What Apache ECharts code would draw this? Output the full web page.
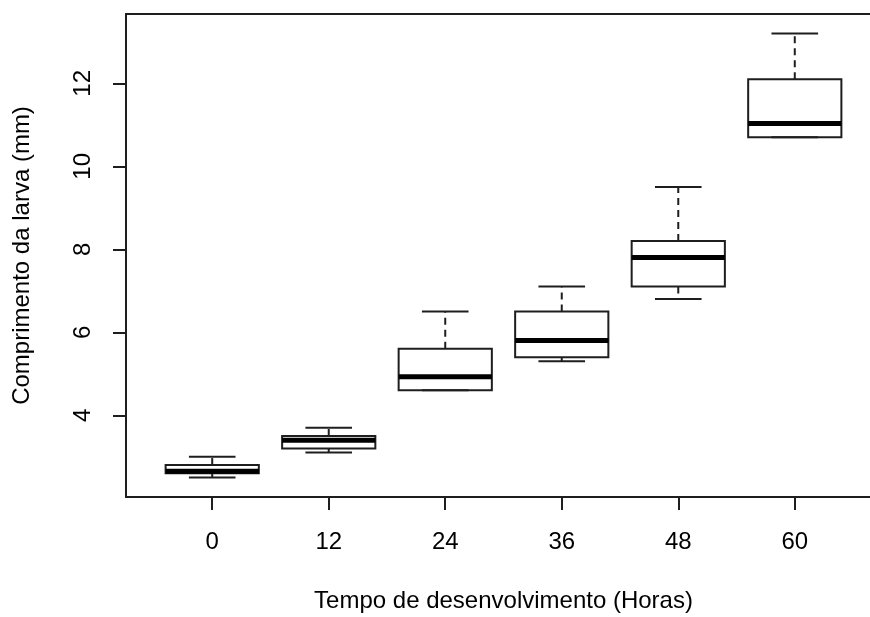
<!DOCTYPE html>
<html>
<head>
<meta charset="utf-8">
<script src="https://cdn.jsdelivr.net/npm/echarts@6/dist/echarts.min.js"></script>
<style>
  html, body { margin: 0; padding: 0; background: #fff; }
  #chart { width: 870px; height: 617px; }
</style>
</head>
<body>
<div id="chart"></div>
<script>
// ---- data ----
const hours     = ['0', '12', '24', '36', '48', '60'];
const positions = [1, 2, 3, 4, 5, 6];
const minV      = [2.5, 3.1, 4.6, 5.3, 6.8, 10.7];
const q1V       = [2.6, 3.2, 4.6, 5.4, 7.1, 10.7];
const medV      = [2.65, 3.4, 4.93, 5.8, 7.8, 11.03];
const q3V       = [2.8, 3.5, 5.6, 6.5, 8.2, 12.1];
const maxV      = [3.0, 3.7, 6.5, 7.1, 9.5, 13.2];
const yTicks    = [4, 6, 8, 10, 12];

const boxData = positions.map((p, i) => [p, minV[i], q1V[i], medV[i], q3V[i], maxV[i]]);

const LINE = '#1e1e1e';
const FONT = "'Liberation Sans', Arial, sans-serif";

function renderItem(params, api) {
  const x = api.value(0);
  const lo = api.value(1), q1 = api.value(2), med = api.value(3), q3 = api.value(4), hi = api.value(5);
  const halfBox = api.size([0.8, 0])[0] / 2;
  const halfCap = api.size([0.4, 0])[0] / 2;
  const pLo = api.coord([x, lo]);
  const pQ1 = api.coord([x, q1]);
  const pMed = api.coord([x, med]);
  const pQ3 = api.coord([x, q3]);
  const pHi = api.coord([x, hi]);
  const cx = pMed[0];
  const thin = { stroke: LINE, lineWidth: 2, fill: null };
  const dashed = { stroke: LINE, lineWidth: 2, lineDash: [7, 5], fill: null };
  const children = [];
  if (pHi[1] < pQ3[1]) {
    children.push({ type: 'line', shape: { x1: cx, y1: pQ3[1], x2: cx, y2: pHi[1] }, style: dashed });
  }
  if (pLo[1] > pQ1[1]) {
    children.push({ type: 'line', shape: { x1: cx, y1: pQ1[1], x2: cx, y2: pLo[1] }, style: dashed });
  }
  children.push({ type: 'line', shape: { x1: cx - halfCap, y1: pHi[1], x2: cx + halfCap, y2: pHi[1] }, style: thin });
  children.push({ type: 'line', shape: { x1: cx - halfCap, y1: pLo[1], x2: cx + halfCap, y2: pLo[1] }, style: thin });
  children.push({ type: 'rect', shape: { x: cx - halfBox, y: pQ3[1], width: 2 * halfBox, height: pQ1[1] - pQ3[1] }, style: thin });
  children.push({ type: 'line', shape: { x1: cx - halfBox, y1: pMed[1], x2: cx + halfBox, y2: pMed[1] }, style: { stroke: '#000', lineWidth: 5 } });
  return { type: 'group', children: children };
}

const frameLine = { show: true, lineStyle: { color: LINE, width: 2 } };

const chart = echarts.init(document.getElementById('chart'), null, { renderer: 'canvas' });
chart.setOption({
  animation: false,
  backgroundColor: '#fff',
  grid: {
    left: 126, top: 14, width: 755, height: 483,
    containLabel: false,
    outerBoundsMode: 'none',
    show: false
  },
  xAxis: [{
    type: 'value', min: 0.26, max: 6.74, position: 'bottom',
    axisLine: frameLine,
    splitLine: { show: false },
    axisTick: { show: true, length: 13, lineStyle: { color: LINE, width: 2 }, customValues: positions },
    axisLabel: {
      customValues: positions,
      formatter: v => hours[Math.round(v) - 1],
      fontSize: 24, color: '#000', fontFamily: FONT, margin: 33
    },
    name: 'Tempo de desenvolvimento (Horas)',
    nameLocation: 'middle', nameGap: 92,
    nameTextStyle: { fontSize: 24, color: '#000', fontFamily: FONT }
  }, {
    type: 'value', min: 0.26, max: 6.74, position: 'top',
    axisLine: frameLine,
    splitLine: { show: false },
    axisTick: { show: false },
    axisLabel: { show: false }
  }],
  yAxis: {
    type: 'value', min: 2.03, max: 13.67,
    axisLine: frameLine,
    splitLine: { show: false },
    axisTick: { show: true, length: 13, lineStyle: { color: LINE, width: 2 }, customValues: yTicks },
    axisLabel: {
      customValues: yTicks, rotate: 90,
      formatter: v => String(v),
      fontSize: 24, color: '#000', fontFamily: FONT, margin: 31
    },
    name: 'Comprimento da larva (mm)',
    nameLocation: 'middle', nameGap: 92,
    nameTextStyle: { fontSize: 24, color: '#000', fontFamily: FONT }
  },
  series: [{
    type: 'custom',
    renderItem: renderItem,
    xAxisIndex: 0,
    encode: { x: 0, y: [1, 2, 3, 4, 5] },
    data: boxData,
    clip: false
  }]
});
</script>
</body>
</html>
